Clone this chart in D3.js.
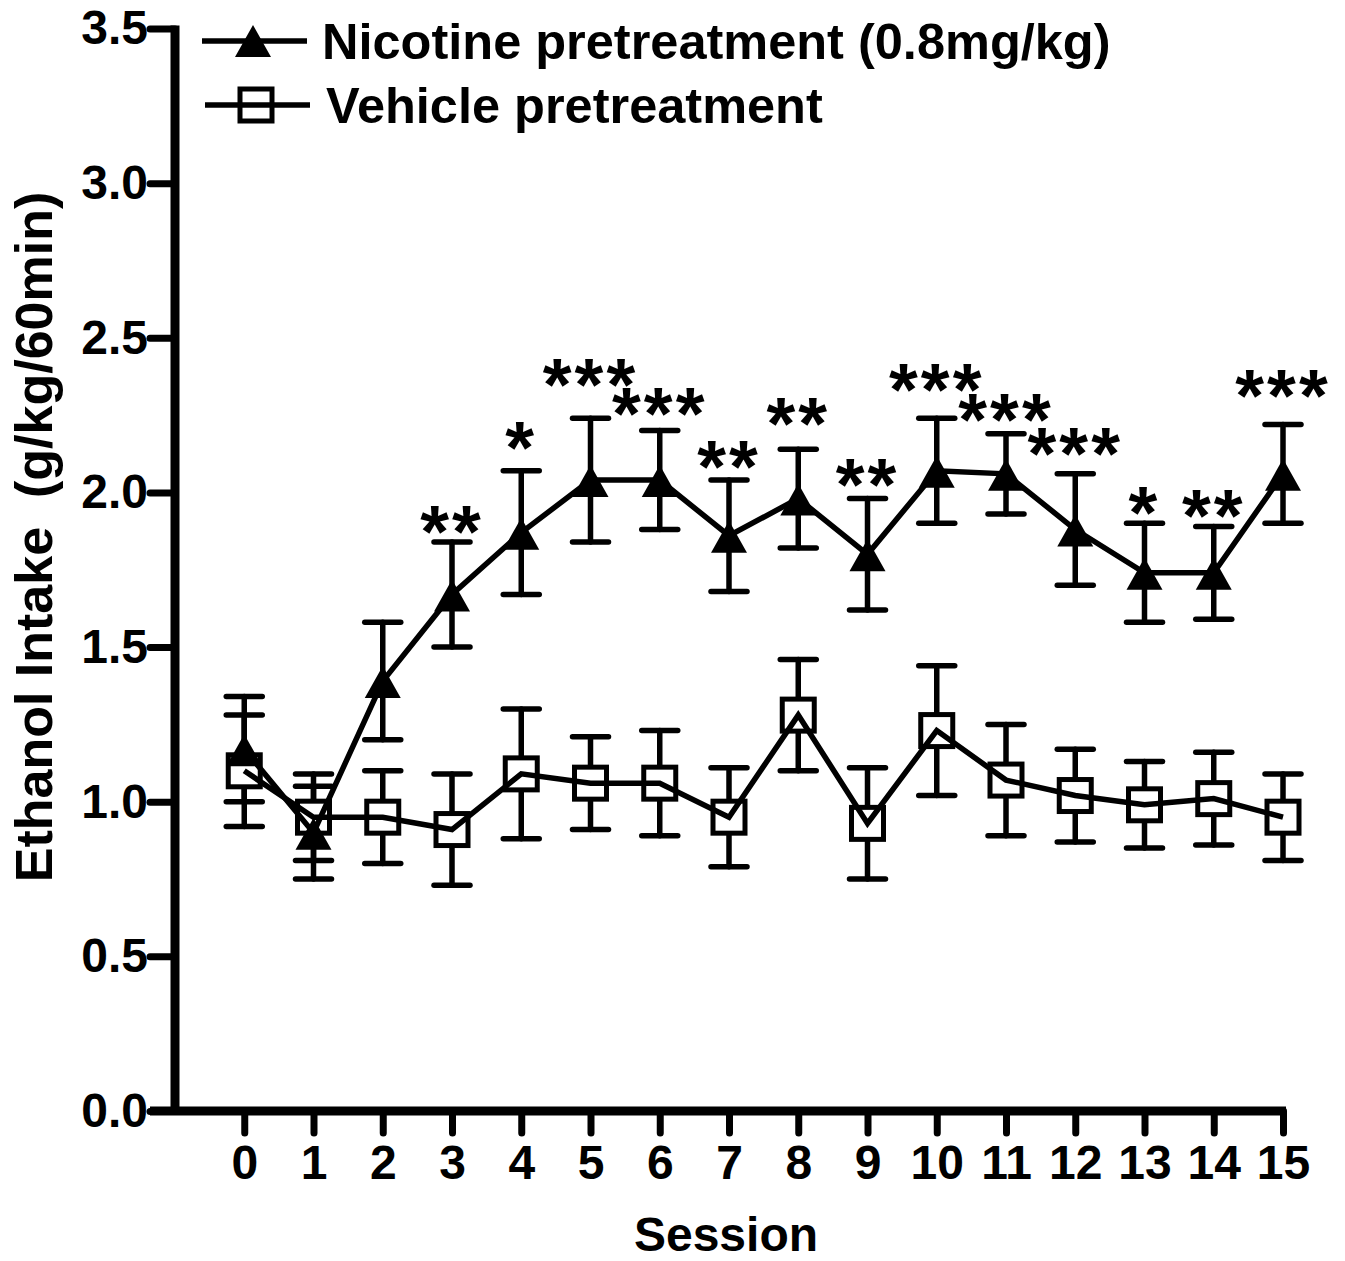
<!DOCTYPE html>
<html>
<head>
<meta charset="utf-8">
<script src="https://cdn.jsdelivr.net/npm/d3@7"></script>
<style>
  body { margin: 0; background: #fff; }
  svg text { font-family: "Liberation Sans", Arial, sans-serif; font-weight: bold; fill: #000; }
</style>
</head>
<body>
<svg id="chart" width="1345" height="1261"></svg>
<script>
// data
var sessions = [0, 1, 2, 3, 4, 5, 6, 7, 8, 9, 10, 11, 12, 13, 14, 15];
var nicotineMean = [1.17, 0.90, 1.39, 1.67, 1.87, 2.04, 2.04, 1.86, 1.98, 1.80, 2.07, 2.06, 1.88, 1.74, 1.74, 2.06];
var nicotineSem  = [0.17, 0.15, 0.19, 0.17, 0.20, 0.20, 0.16, 0.18, 0.16, 0.18, 0.17, 0.13, 0.18, 0.16, 0.15, 0.16];
var vehicleMean  = [1.10, 0.95, 0.95, 0.91, 1.09, 1.06, 1.06, 0.95, 1.28, 0.93, 1.23, 1.07, 1.02, 0.99, 1.01, 0.95];
var vehicleSem   = [0.18, 0.14, 0.15, 0.18, 0.21, 0.15, 0.17, 0.16, 0.18, 0.18, 0.21, 0.18, 0.15, 0.14, 0.15, 0.14];
var stars     = ['', '', '', '**', '*', '***', '***', '**', '**', '**', '***', '***', '***', '*', '**', '***'];
var starLevel = [null, null, null, 1.91, 2.18, 2.385, 2.29, 2.12, 2.26, 2.06, 2.37, 2.27, 2.16, 1.97, 1.96, 2.35];
var yTicks = [0, 0.5, 1.0, 1.5, 2.0, 2.5, 3.0, 3.5];
var seriesNames = ['Nicotine pretreatment (0.8mg/kg)', 'Vehicle pretreatment'];

var svg = d3.select('#chart');

var x = d3.scaleLinear().domain([-1, 15]).range([175, 1283]);
var y = d3.scaleLinear().domain([0, 3.5]).range([1111, 28.5]);

var vehicle = sessions.map((s, i) => ({s: s, m: vehicleMean[i], e: vehicleSem[i]}));
var nicotine = sessions.map((s, i) => ({s: s, m: nicotineMean[i], e: nicotineSem[i]}));

var trianglePath = 'M0,-17 L18,15 L-18,15 Z';

// axes
var yAxis = svg.append('g')
	.attr('transform', 'translate(175,0)')
	.call(d3.axisLeft(y)
		.tickValues(yTicks)
		.tickFormat(d3.format('.1f'))
		.tickSize(25)
		.tickSizeOuter(0)
		.tickPadding(2));

var xAxis = svg.append('g')
	.attr('transform', 'translate(0,1111)')
	.call(d3.axisBottom(x)
		.tickValues(sessions)
		.tickSize(22)
		.tickSizeOuter(0)
		.tickPadding(12));

svg.selectAll('.domain').remove();
svg.selectAll('.tick line')
	.attr('stroke', '#000')
	.attr('stroke-width', 7)
	.attr('stroke-linecap', 'round');
svg.selectAll('.tick text')
	.style('font-size', '48px');

svg.append('line')
	.attr('x1', 175).attr('x2', 175)
	.attr('y1', y(3.5) - 3).attr('y2', y(0) + 4)
	.attr('stroke', '#000').attr('stroke-width', 9);
svg.append('line')
	.attr('x1', 150).attr('x2', x(15) + 3)
	.attr('y1', y(0)).attr('y2', y(0))
	.attr('stroke', '#000').attr('stroke-width', 9);

// axis titles
svg.append('text')
	.attr('transform', 'translate(52,537) rotate(-90)')
	.attr('text-anchor', 'middle')
	.style('font-size', '52px')
	.text('Ethanol Intake\u00a0\u00a0(g/kg/60min)');

svg.append('text')
	.attr('x', 726)
	.attr('y', 1251)
	.attr('text-anchor', 'middle')
	.style('font-size', '48px')
	.text('Session');

// error bars
function drawErrors(data){
	var g = svg.append('g').attr('stroke', '#000').attr('stroke-width', 5.5).attr('stroke-linecap', 'round');
	var eb = g.selectAll('g').data(data).enter().append('g');
	eb.append('line')
		.attr('x1', d => x(d.s)).attr('x2', d => x(d.s))
		.attr('y1', d => y(d.m - d.e)).attr('y2', d => y(d.m + d.e));
	eb.append('line')
		.attr('x1', d => x(d.s) - 18).attr('x2', d => x(d.s) + 18)
		.attr('y1', d => y(d.m + d.e)).attr('y2', d => y(d.m + d.e));
	eb.append('line')
		.attr('x1', d => x(d.s) - 18).attr('x2', d => x(d.s) + 18)
		.attr('y1', d => y(d.m - d.e)).attr('y2', d => y(d.m - d.e));
}
drawErrors(vehicle);
drawErrors(nicotine);

// vehicle squares (white filled, under the lines)
svg.append('g').selectAll('rect')
		.data(vehicle)
	.enter()
	.append('rect')
		.attr('x', d => x(d.s) - 16)
		.attr('y', d => y(d.m) - 16)
		.attr('width', 32)
		.attr('height', 32)
		.attr('fill', '#fff')
		.attr('stroke', '#000')
		.attr('stroke-width', 5);

var line = d3.line().x(d => x(d.s)).y(d => y(d.m));

[vehicle, nicotine].forEach(function(data){
	svg.append('path')
		.datum(data)
		.attr('d', line)
		.attr('fill', 'none')
		.attr('stroke', '#000')
		.attr('stroke-width', 5.5)
		.attr('stroke-linejoin', 'miter');
});

// nicotine triangles
svg.append('g').selectAll('path')
		.data(nicotine)
	.enter()
	.append('path')
		.attr('d', trianglePath)
		.attr('transform', d => 'translate(' + x(d.s) + ',' + (y(d.m) + 2) + ')')
		.attr('fill', '#000');

// significance stars
var starSize = 74;
svg.append('g').selectAll('text')
		.data(sessions.filter((s, i) => stars[i] !== ''))
	.enter()
	.append('text')
		.attr('x', d => x(d))
		.attr('y', d => y(starLevel[d]) + 0.494 * starSize)
		.attr('text-anchor', 'middle')
		.style('font-size', starSize + 'px')
		.style('letter-spacing', '3px')
		.text(d => stars[d]);

// legend
var legend = svg.append('g').selectAll('g')
		.data(seriesNames)
	.enter()
	.append('g')
		.attr('transform', (d, i) => 'translate(0,' + (41 + i * 64) + ')');

legend.append('line')
	.attr('x1', (d, i) => 202 + i * 3)
	.attr('x2', (d, i) => 307 + i * 3)
	.attr('stroke', '#000')
	.attr('stroke-width', 5.5);

legend.filter((d, i) => i === 0).append('path')
	.attr('d', trianglePath)
	.attr('transform', 'translate(253,1)')
	.attr('fill', '#000');

legend.filter((d, i) => i === 1).append('rect')
	.attr('x', 256 - 16).attr('y', -16)
	.attr('width', 32).attr('height', 32)
	.attr('fill', 'none')
	.attr('stroke', '#000')
	.attr('stroke-width', 5);

legend.append('text')
	.attr('x', (d, i) => 322 + i * 4)
	.attr('y', 18)
	.style('font-size', '50.5px')
	.text(d => d);
</script>
</body>
</html>
